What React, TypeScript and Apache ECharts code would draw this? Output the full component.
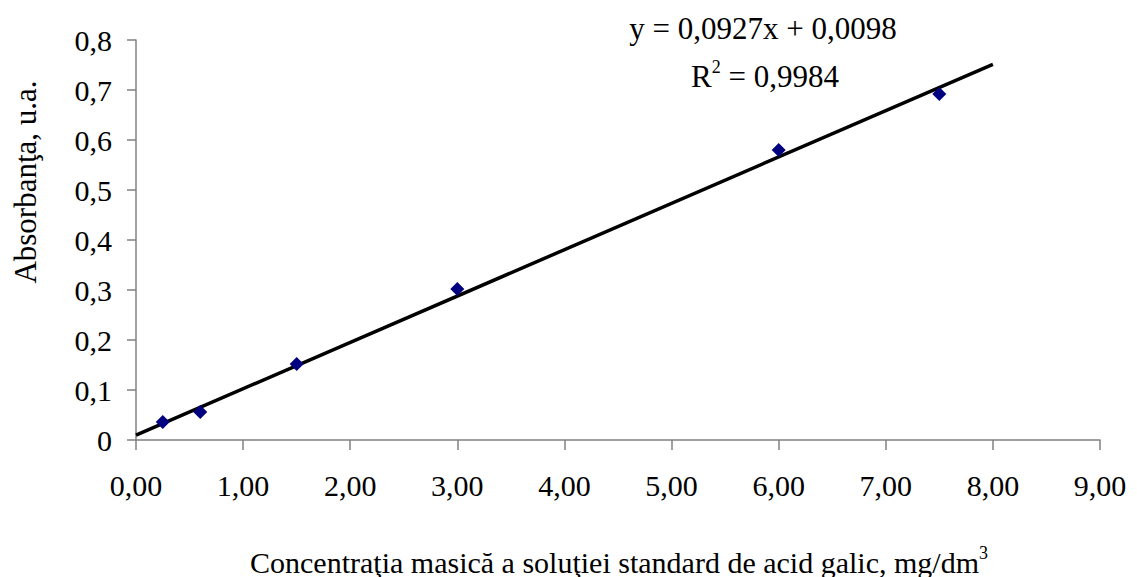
import React, { useEffect, useRef } from "react";
import * as echarts from "echarts";

const concentrations = [0.25, 0.6, 1.5, 3.0, 6.0, 7.5];
const absorbances = [0.036, 0.056, 0.152, 0.302, 0.58, 0.692];
const trendSlope = 0.0927;
const trendIntercept = 0.0098;
const trendRange = [0, 8];
const equationText = "y = 0,0927x + 0,0098";
const r2Text = "0,9984";
const yTitle = "Absorbanţa, u.a.";
const xTitle = "Concentraţia masică a soluţiei standard de acid galic, mg/dm";

export default function App() {
  const ref = useRef<HTMLDivElement>(null);
  useEffect(() => {
    if (!ref.current) return;
    const chart = echarts.init(ref.current, null, { renderer: "svg" });
    const font = "'Liberation Serif', 'Times New Roman', serif";
    const trendData = trendRange.map((x) => [x, trendSlope * x + trendIntercept]);
    chart.setOption({
      animation: false,
      backgroundColor: "#ffffff",
      textStyle: { fontFamily: font },
      grid: { left: 136, right: 37, top: 40, bottom: 137 },
      xAxis: {
        type: "value",
        min: 0,
        max: 9,
        interval: 1,
        axisLine: { show: true, lineStyle: { color: "#808080", width: 1.5 } },
        axisTick: { show: true, length: 10, lineStyle: { color: "#808080", width: 1.5 } },
        splitLine: { show: false },
        axisLabel: {
          fontFamily: font,
          fontSize: 30,
          color: "#000",
          margin: 30,
          formatter: (v: number) => v.toFixed(2).replace(".", ","),
        },
      },
      yAxis: {
        type: "value",
        min: 0,
        max: 0.8,
        interval: 0.1,
        axisLine: { show: true, lineStyle: { color: "#808080", width: 1.5 } },
        axisTick: { show: true, length: 9, lineStyle: { color: "#808080", width: 1.5 } },
        splitLine: { show: false },
        axisLabel: {
          fontFamily: font,
          fontSize: 30,
          color: "#000",
          margin: 24,
          formatter: (v: number) =>
            v === 0 ? "0" : (Math.round(v * 10) / 10).toString().replace(".", ","),
        },
      },
      graphic: [
        {
          type: "text",
          x: 25,
          y: 182,
          rotation: Math.PI / 2,
          style: {
            text: yTitle,
            fontFamily: font,
            fontSize: 31,
            fill: "#000",
            align: "center",
            verticalAlign: "middle",
          },
        },
        {
          type: "text",
          x: 619,
          y: 562,
          style: {
            text: `{a|${xTitle}}{s|3}`,
            align: "center",
            verticalAlign: "middle",
            rich: {
              a: { fontFamily: font, fontSize: 30, color: "#000" },
              s: { fontFamily: font, fontSize: 18, color: "#000", padding: [0, 0, 18, 0] },
            },
          },
        },
        {
          type: "text",
          x: 763,
          y: 28,
          style: {
            text: equationText,
            fontFamily: font,
            fontSize: 31,
            fill: "#000",
            align: "center",
            verticalAlign: "middle",
          },
        },
        {
          type: "text",
          x: 765,
          y: 76,
          style: {
            text: `{a|R}{s|2}{a| = ${r2Text}}`,
            align: "center",
            verticalAlign: "middle",
            rich: {
              a: { fontFamily: font, fontSize: 31, color: "#000" },
              s: { fontFamily: font, fontSize: 18, color: "#000", padding: [0, 0, 18, 0] },
            },
          },
        },
      ],
      series: [
        {
          type: "line",
          data: trendData,
          showSymbol: false,
          symbol: "none",
          lineStyle: { color: "#000", width: 3.5 },
          z: 2,
        },
        {
          type: "scatter",
          data: concentrations.map((x, i) => [x, absorbances[i]]),
          symbol: "diamond",
          symbolSize: 14,
          itemStyle: { color: "#000080", opacity: 1 },
          z: 3,
        },
      ],
    });
    return () => chart.dispose();
  }, []);
  return (
    <div
      ref={ref}
      style={{ position: "absolute", left: 0, top: 0, width: 1137, height: 577 }}
    />
  );
}
